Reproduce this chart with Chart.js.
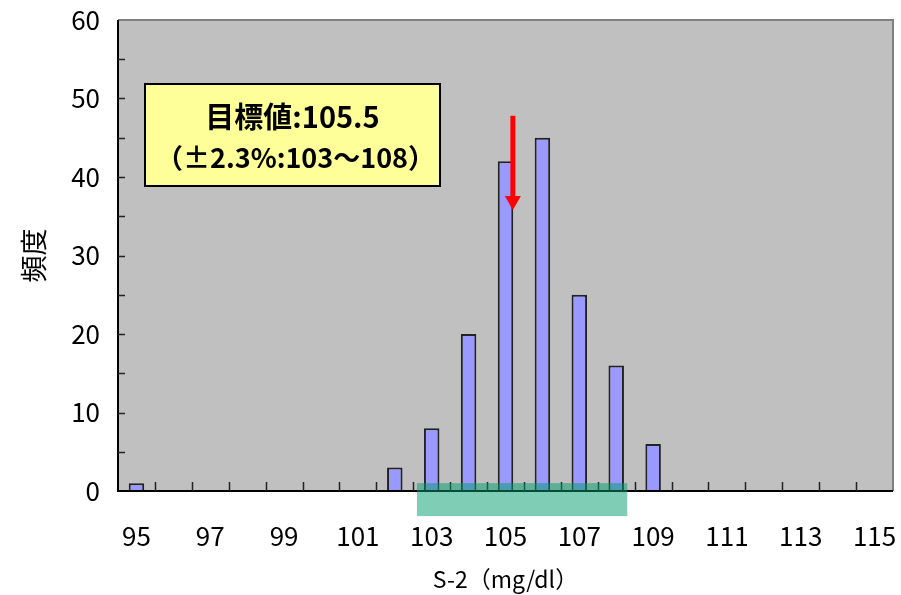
<!DOCTYPE html>
<html>
<head>
<meta charset="utf-8">
<script src="https://cdn.jsdelivr.net/npm/chart.js@4.4.1/dist/chart.umd.min.js"></script>
<style>
    html, body { margin: 0; padding: 0; background: #fff; }
    #wrap { width: 901px; height: 595px; position: relative; }
</style>
</head>
<body>
<div id="wrap"><canvas id="histogram"></canvas></div>
<script>
// --- Datos del histograma ---
const categories = ['95', '96', '97', '98', '99', '100', '101', '102', '103', '104', '105',
    '106', '107', '108', '109', '110', '111', '112', '113', '114', '115'];
const frequencies = [1, 0, 0, 0, 0, 0, 0, 3, 8, 20, 42, 45, 25, 16, 6, 0, 0, 0, 0, 0, 0];
const yTicks = [0, 10, 20, 30, 40, 50, 60];

// banda objetivo (103〜108) y flecha del valor objetivo
const targetBand = [102.6, 108.3];
const targetBandFreq = [-3.2, 1];
const arrowX = 105.2;
const arrowFreq = [47.8, 35.8];

const noteLines = ['目標値:105.5', '（±2.3%:103～108）'];

const FONT = '"Noto Sans CJK JP", "Noto Sans", sans-serif';

// posición en la escala de categorías a partir del valor en mg/dl
const catPos = (scale, v) => scale.getPixelForValue(v - Number(categories[0]));

const decorPlugin = {
    id: 'decor',
    beforeDatasetsDraw(chart) {
        const { ctx, chartArea: a } = chart;
        ctx.save();
        ctx.fillStyle = '#C0C0C0';
        ctx.fillRect(a.left, a.top, a.right - a.left, a.bottom - a.top);
        ctx.restore();
    },
    afterDatasetsDraw(chart) {
        const { ctx, chartArea: a, scales: { x, y } } = chart;
        ctx.save();

        // bordes del área
        ctx.lineWidth = 2;
        ctx.strokeStyle = '#808080';
        ctx.beginPath();
        ctx.moveTo(a.left, a.top);
        ctx.lineTo(a.right, a.top);
        ctx.lineTo(a.right, a.bottom);
        ctx.stroke();
        ctx.strokeStyle = '#000';
        ctx.beginPath();
        ctx.moveTo(a.left, a.top);
        ctx.lineTo(a.left, a.bottom);
        ctx.lineTo(a.right, a.bottom);
        ctx.stroke();

        // marcas de eje hacia dentro
        ctx.lineWidth = 1.5;
        ctx.strokeStyle = '#222';
        for (let v = 5; v < 60; v += 5) {
            const py = Math.round(y.getPixelForValue(v)) + 0.5;
            ctx.beginPath();
            ctx.moveTo(a.left, py);
            ctx.lineTo(a.left + 7, py);
            ctx.stroke();
        }
        for (let i = 1; i < categories.length; i++) {
            const px = Math.round(x.getPixelForValue(i - 0.5)) + 0.5;
            ctx.beginPath();
            ctx.moveTo(px, a.bottom);
            ctx.lineTo(px, a.bottom - 9);
            ctx.stroke();
        }

        // banda verde
        const bx1 = catPos(x, targetBand[0]);
        const bx2 = catPos(x, targetBand[1]);
        const by1 = y.getPixelForValue(targetBandFreq[1]);
        const by2 = y.getPixelForValue(targetBandFreq[0]);
        ctx.fillStyle = 'rgba(0, 155, 105, 0.5)';
        ctx.fillRect(bx1, by1, bx2 - bx1, by2 - by1);

        // flecha roja
        const ax = catPos(x, arrowX);
        const ay1 = y.getPixelForValue(arrowFreq[0]);
        const ay2 = y.getPixelForValue(arrowFreq[1]);
        ctx.fillStyle = '#FF0000';
        ctx.fillRect(ax - 2.5, ay1, 5, ay2 - ay1 - 12);
        ctx.beginPath();
        ctx.moveTo(ax - 8, ay2 - 14);
        ctx.lineTo(ax + 8, ay2 - 14);
        ctx.lineTo(ax, ay2);
        ctx.closePath();
        ctx.fill();

        // cuadro de nota
        const bxL = 145, byT = 84, bw = 295, bh = 102;
        ctx.fillStyle = '#FFFF99';
        ctx.fillRect(bxL, byT, bw, bh);
        ctx.lineWidth = 2;
        ctx.strokeStyle = '#000';
        ctx.strokeRect(bxL, byT, bw, bh);
        ctx.fillStyle = '#000';
        ctx.textAlign = 'center';
        ctx.textBaseline = 'middle';
        ctx.font = 'bold 29px ' + FONT;
        ctx.fillText(noteLines[0], bxL + bw / 2, 117);
        ctx.font = 'bold 27px ' + FONT;
        ctx.fillText(noteLines[1], bxL + bw / 2 + 3, 158);

        ctx.restore();
    }
};

const ctx = document.getElementById('histogram').getContext('2d');
new Chart(ctx, {
    type: 'bar',
    data: {
        labels: categories,
        datasets: [{
            data: frequencies,
            backgroundColor: '#9999FF',
            borderColor: '#222',
            borderWidth: 2,
            categoryPercentage: 1,
            barPercentage: 0.42
        }]
    },
    options: {
        responsive: true,
        maintainAspectRatio: false,
        animation: false,
        layout: { padding: { top: 20, right: 8, left: 0, bottom: 0 } },
        plugins: { legend: { display: false }, tooltip: { enabled: false } },
        scales: {
            x: {
                grid: { display: false, drawTicks: false },
                border: { display: false },
                afterFit: s => { s.height = 104; s.paddingLeft = 0; s.paddingRight = 0; },
                ticks: {
                    autoSkip: false,
                    maxRotation: 0,
                    padding: 30,
                    color: '#000',
                    font: { family: FONT, size: 26 },
                    callback: (v, i) => (Number(categories[i]) % 2 === 1 ? categories[i] : '')
                },
                title: {
                    display: true,
                    text: 'S-2（mg/dl）',
                    color: '#000',
                    font: { family: FONT, size: 23 },
                    padding: { top: 0, bottom: 2 }
                }
            },
            y: {
                min: yTicks[0],
                max: yTicks[yTicks.length - 1],
                grid: { display: false, drawTicks: false },
                border: { display: false },
                afterFit: s => { s.width = 118; s.paddingTop = 0; s.paddingBottom = 0; },
                afterBuildTicks: s => { s.ticks = yTicks.map(v => ({ value: v })); },
                ticks: {
                    padding: 18,
                    color: '#000',
                    font: { family: FONT, size: 26 }
                },
                title: {
                    display: true,
                    text: '頻度',
                    color: '#000',
                    font: { family: FONT, size: 27 },
                    padding: { top: 18, bottom: 0 }
                }
            }
        }
    },
    plugins: [decorPlugin]
});
</script>
</body>
</html>
